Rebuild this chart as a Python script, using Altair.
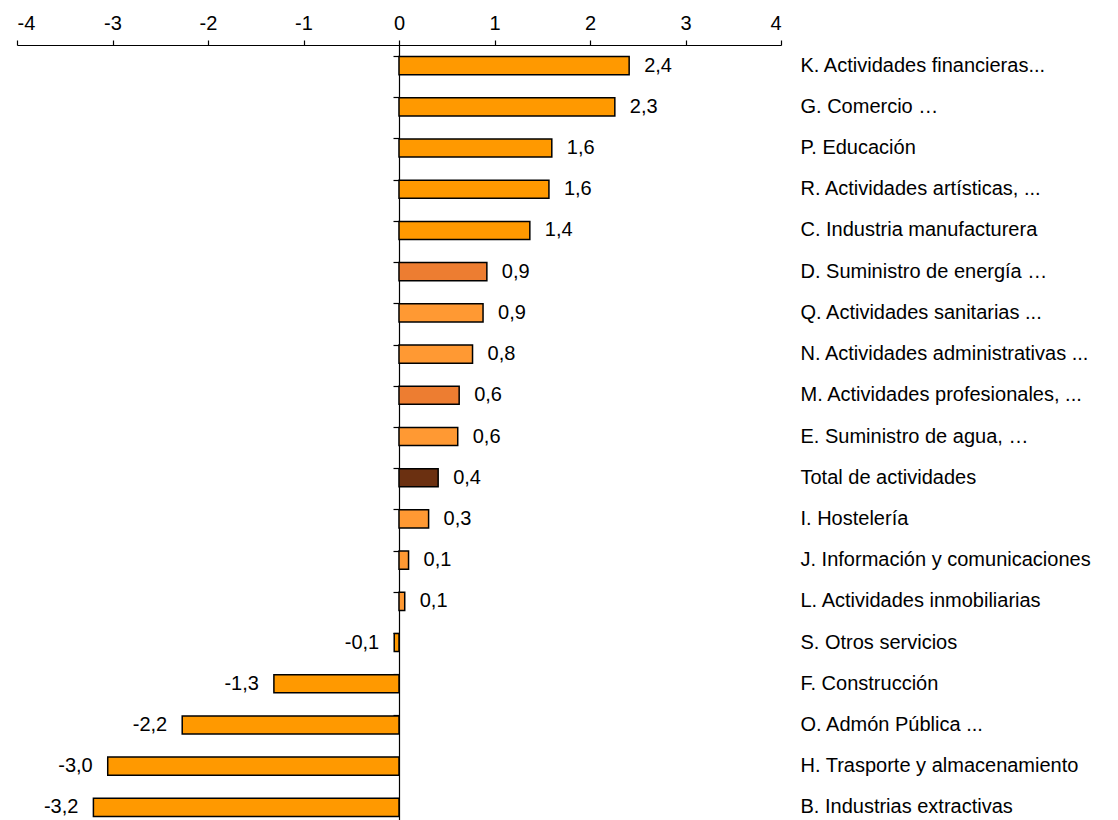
import altair as alt
import pandas as pd

categories = [
    "K. Actividades financieras...",
    "G. Comercio …",
    "P. Educación",
    "R. Actividades artísticas, ...",
    "C. Industria manufacturera",
    "D. Suministro de energía …",
    "Q. Actividades sanitarias ...",
    "N. Actividades administrativas ...",
    "M. Actividades profesionales, ...",
    "E. Suministro de agua, …",
    "Total de actividades",
    "I. Hostelería",
    "J. Información y comunicaciones",
    "L. Actividades inmobiliarias",
    "S. Otros servicios",
    "F. Construcción",
    "O. Admón Pública ...",
    "H. Trasporte y almacenamiento",
    "B. Industrias extractivas",
]
values = [2.41, 2.26, 1.60, 1.57, 1.37, 0.92, 0.88, 0.77, 0.63, 0.615,
          0.41, 0.31, 0.10, 0.06, -0.05, -1.31, -2.27, -3.05, -3.20]
value_labels = ["2,4", "2,3", "1,6", "1,6", "1,4", "0,9", "0,9", "0,8", "0,6", "0,6",
                "0,4", "0,3", "0,1", "0,1", "-0,1", "-1,3", "-2,2", "-3,0", "-3,2"]
groups = ["base", "base", "base", "base", "base", "dark", "light", "light", "dark", "light",
          "total", "light", "light", "light", "base", "base", "base", "base", "base"]
x_ticks = [-4, -3, -2, -1, 0, 1, 2, 3, 4]

group_domain = ["base", "light", "dark", "total"]
group_colors = ["#FF9900", "#FF9933", "#ED7D31", "#6B3011"]

df = pd.DataFrame({"cat": categories, "value": values, "label": value_labels, "group": groups})

FONT = "Liberation Sans"
FS = 20
W, H = 764, 783

bars = alt.Chart(df).mark_bar(stroke="black", strokeWidth=1.5).encode(
    x=alt.X("value:Q",
            scale=alt.Scale(domain=[-4, 4], nice=False, zero=False),
            axis=alt.Axis(orient="top", values=x_ticks, labelExpr="datum.value + ''", title=None,
                          grid=False, domainColor="black", domainWidth=1.2, tickColor="black",
                          tickWidth=1.2, tickSize=5, labelPadding=7, labelFont=FONT,
                          labelFontSize=FS, labelColor="black")),
    y=alt.Y("cat:N", sort=categories,
            scale=alt.Scale(paddingInner=0.56, paddingOuter=0.28),
            axis=alt.Axis(orient="left", offset=-W / 2, labels=False, title=None, grid=False,
                          domainColor="black", domainWidth=1.2, tickColor="black", tickWidth=1.2,
                          tickSize=6, bandPosition=0)),
    color=alt.Color("group:N", scale=alt.Scale(domain=group_domain, range=group_colors), legend=None),
)

pos_labels = alt.Chart(df).transform_filter("datum.value >= 0").mark_text(
    align="left", baseline="middle", dx=15, font=FONT, fontSize=FS, color="black"
).encode(
    x=alt.X("value:Q", axis=alt.Axis(grid=False)),
    y=alt.Y("cat:N", sort=categories,
            axis=alt.Axis(orient="right", labels=True, ticks=False, domain=False, title=None,
                          grid=False, labelPadding=19, labelFont=FONT, labelFontSize=FS,
                          labelColor="black", labelAlign="left", labelLimit=400)),
    text="label:N",
)

neg_labels = alt.Chart(df).transform_filter("datum.value < 0").mark_text(
    align="right", baseline="middle", dx=-15, font=FONT, fontSize=FS, color="black"
).encode(
    x=alt.X("value:Q", axis=alt.Axis(grid=False)),
    y=alt.Y("cat:N", sort=categories, axis=None),
    text="label:N",
)

chart = alt.layer(bars, pos_labels, neg_labels).resolve_axis(y="independent").properties(
    width=W, height=H,
    padding={"left": 8, "top": 5, "right": 5, "bottom": 5},
    background="white",
).configure_view(stroke=None)

chart.save("out.html", embed_options={"renderer": "svg", "actions": False})
